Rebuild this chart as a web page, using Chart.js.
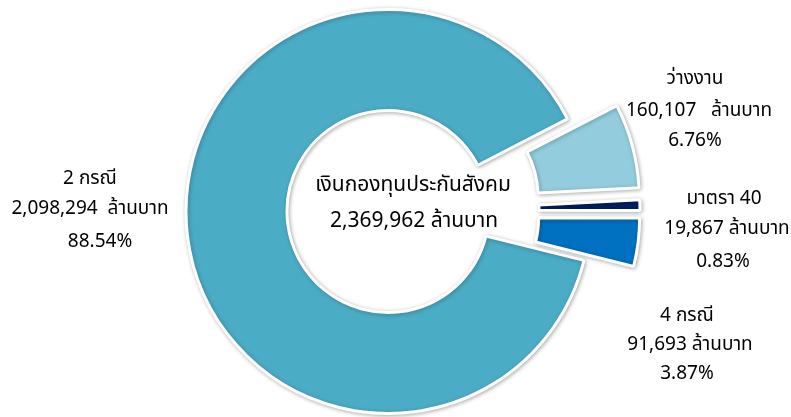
<!DOCTYPE html>
<html><head><meta charset="utf-8">
<script src="https://cdn.jsdelivr.net/npm/chart.js@4"></script>
<style>
html,body{margin:0;padding:0;background:#fff;}
#wrap{position:relative;width:791px;height:417px;overflow:hidden;background:#fff;}
canvas{position:absolute;left:0;top:0;}
.lbl{position:absolute;white-space:pre;font-family:Tahoma,"Noto Sans Thai","Leelawadee UI","Noto Sans",sans-serif;font-size:19px;color:#000;transform:translate(-50%,-50%);line-height:1;}
.big{font-size:21px;}
</style></head>
<body><div id="wrap"><canvas id="c" width="791" height="417"></canvas></div>
<script>
// ---- data ----
const categories = ['2 กรณี', 'ว่างงาน', 'มาตรา 40', '4 กรณี'];
const values = [2098294, 160107, 19867, 91693];
const percents = ['88.54%', '6.76%', '0.83%', '3.87%'];
const unit = 'ล้านบาท';
const totalTitle = 'เงินกองทุนประกันสังคม';
const totalValue = 2369962;

// ---- styles / layout ----
const colors = ['#4BACC6', '#93CDDD', '#002060', '#0070C0'];
const explode = [0, 51, 50, 50];
const sep = ['  ', '   ', ' ', ' '];
// [x,y] for each of the three label lines per slice
const labelPos = [
  [[90, 178], [90, 208], [100, 241]],
  [[695, 78], [699, 110], [695, 140]],
  [[724, 198], [727, 228], [723, 261]],
  [[687, 315], [690, 344], [687, 373]]
];
const centerPos = [[413, 184], [414, 220]];

const fmt = v => v.toLocaleString('en-US');

const explodePlugin = {
  id: 'explode',
  afterDatasetUpdate(chart, args) {
    const meta = args.meta;
    meta.data.forEach((arc, i) => {
      const d = explode[i] || 0;
      const mid = (arc.startAngle + arc.endAngle) / 2;
      arc.x += Math.cos(mid) * d;
      arc.y += Math.sin(mid) * d;
    });
  }
};
const shadowPlugin = {
  id: 'shadow',
  beforeDatasetDraw(chart) {
    const ctx = chart.ctx;
    ctx.save();
    ctx.shadowColor = 'rgba(0,0,0,0.28)';
    ctx.shadowBlur = 4;
    ctx.shadowOffsetX = 1;
    ctx.shadowOffsetY = 1;
  },
  afterDatasetDraw(chart) {
    chart.ctx.restore();
  }
};

new Chart(document.getElementById('c'), {
  type: 'doughnut',
  data: {
    labels: categories,
    datasets: [{
      data: values,
      backgroundColor: colors,
      borderColor: '#ffffff',
      borderWidth: 3,
      hoverOffset: 0,
      clip: false
    }]
  },
  options: {
    responsive: false,
    animation: false,
    events: [],
    rotation: 104,
    radius: 202,
    cutout: '50%',
    layout: { padding: { left: 0, right: 15, top: 6, bottom: 0 } },
    plugins: { legend: { display: false }, tooltip: { enabled: false } }
  },
  plugins: [explodePlugin, shadowPlugin]
});

// ---- labels ----
const wrap = document.getElementById('wrap');
function addText(t, x, y, cls) {
  const d = document.createElement('div');
  d.className = 'lbl' + (cls ? ' ' + cls : '');
  d.textContent = t;
  d.style.left = x + 'px';
  d.style.top = y + 'px';
  wrap.appendChild(d);
}
categories.forEach((c, i) => {
  const lines = [c, fmt(values[i]) + sep[i] + unit, percents[i]];
  lines.forEach((t, j) => addText(t, labelPos[i][j][0], labelPos[i][j][1]));
});
addText(totalTitle, centerPos[0][0], centerPos[0][1], 'big');
addText(fmt(totalValue) + ' ' + unit, centerPos[1][0], centerPos[1][1], 'big');
</script>
</body></html>
